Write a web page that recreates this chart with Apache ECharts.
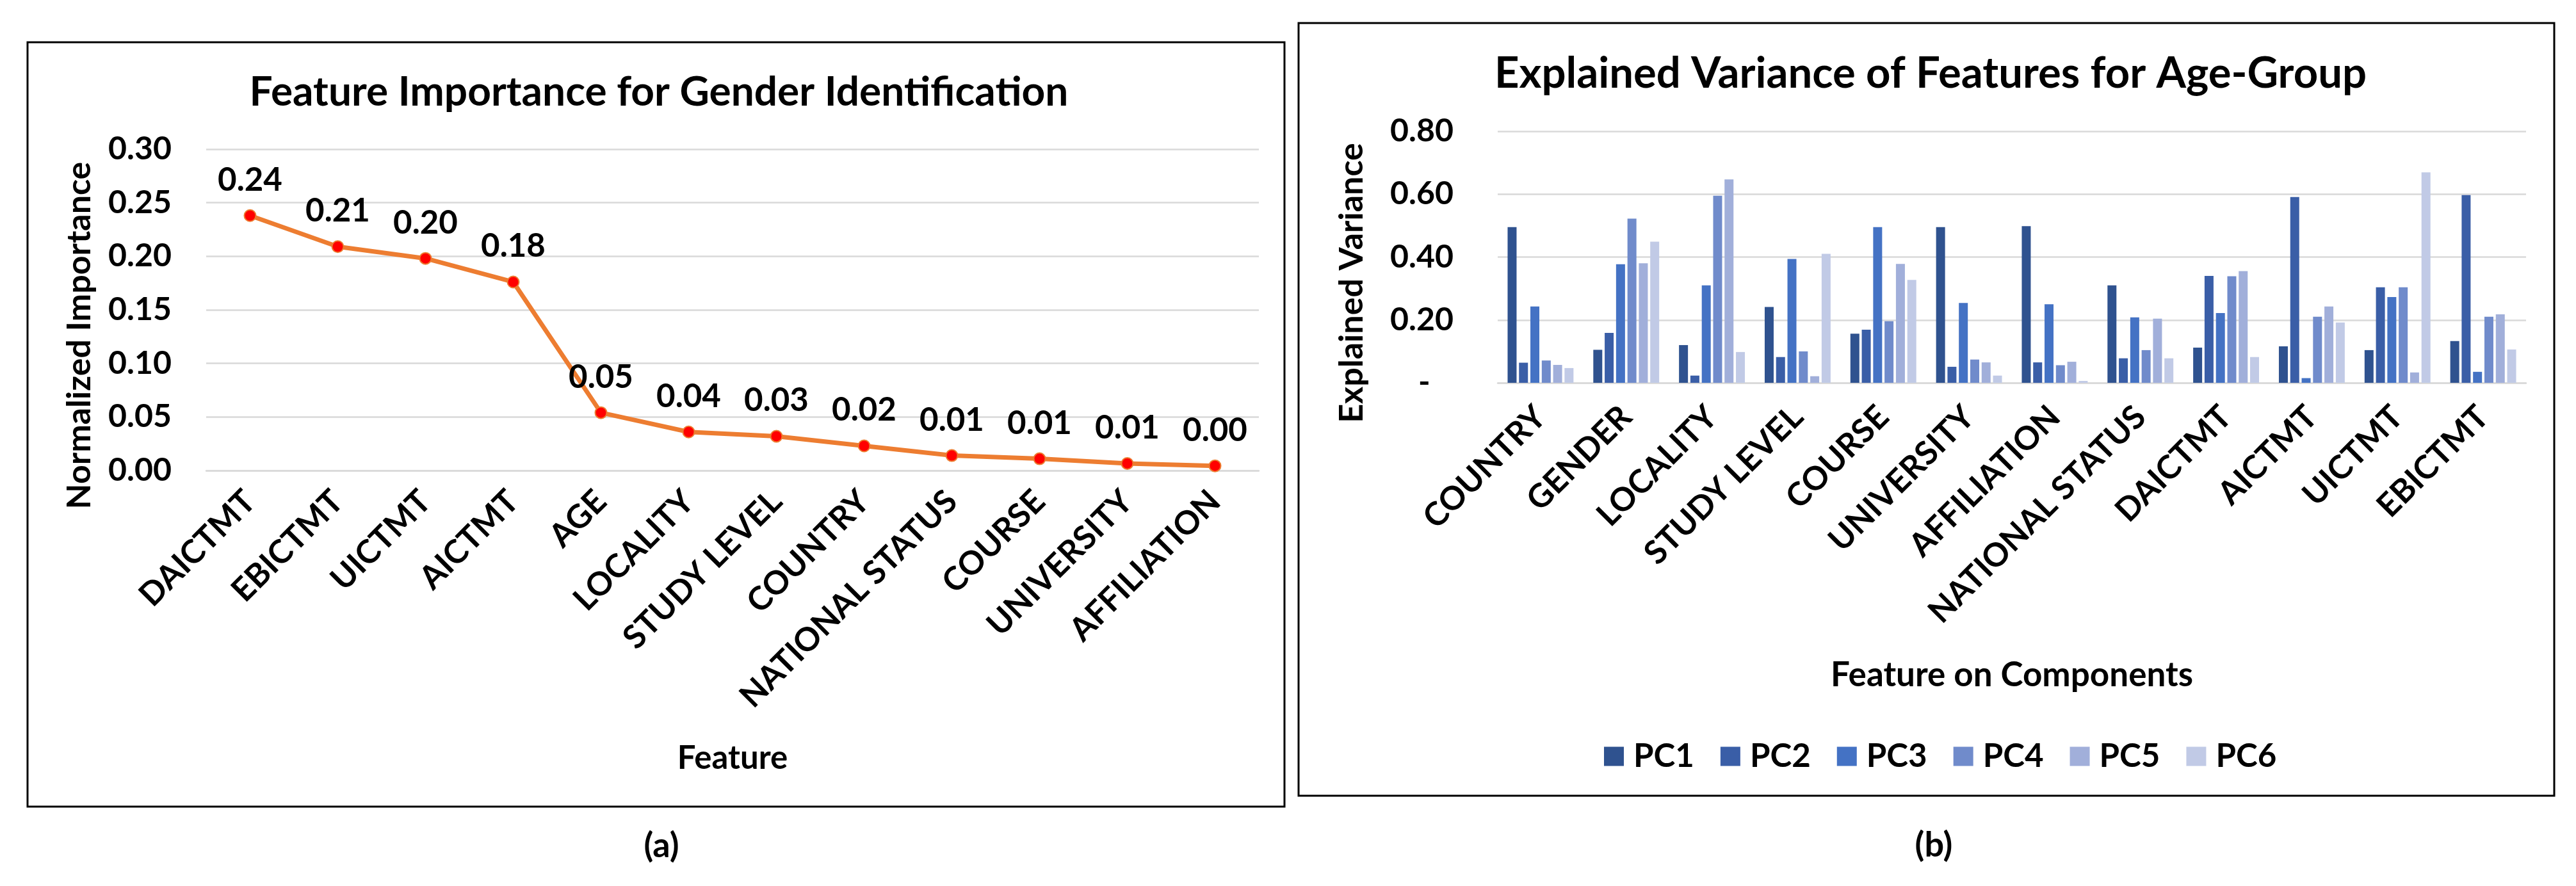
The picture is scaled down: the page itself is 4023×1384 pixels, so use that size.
<!DOCTYPE html>
<html>
<head>
<meta charset="utf-8">
<script src="https://cdn.jsdelivr.net/npm/echarts@6/dist/echarts.min.js"></script>
<style>
html,body{margin:0;padding:0;background:#fff;}
#chart{width:4023px;height:1384px;}
</style>
</head>
<body>
<div id="chart"></div>
<script>
// ---- Panel (a): feature importance for gender identification ----
const genderFeatures = ['DAICTMT','EBICTMT','UICTMT','AICTMT','AGE','LOCALITY','STUDY LEVEL','COUNTRY','NATIONAL STATUS','COURSE','UNIVERSITY','AFFILIATION'];
const genderImportance = [0.238,0.209,0.198,0.176,0.054,0.036,0.032,0.023,0.014,0.011,0.0066,0.0044];
const importanceTicks = {min:0, max:0.30, interval:0.05};

// ---- Panel (b): explained variance of features for age-group ----
const ageFeatures = ['COUNTRY','GENDER','LOCALITY','STUDY LEVEL','COURSE','UNIVERSITY','AFFILIATION','NATIONAL STATUS','DAICTMT','AICTMT','UICTMT','EBICTMT'];
const componentNames = ['PC1','PC2','PC3','PC4','PC5','PC6'];
const pc1 = [0.495,0.105,0.120,0.241,0.156,0.495,0.498,0.310,0.112,0.116,0.104,0.133];
const pc2 = [0.064,0.159,0.023,0.082,0.169,0.051,0.065,0.078,0.340,0.591,0.304,0.597];
const pc3 = [0.243,0.377,0.310,0.394,0.495,0.254,0.250,0.208,0.222,0.015,0.273,0.035];
const pc4 = [0.071,0.522,0.595,0.100,0.196,0.074,0.056,0.104,0.339,0.210,0.304,0.210];
const pc5 = [0.057,0.380,0.647,0.021,0.378,0.065,0.067,0.204,0.355,0.243,0.033,0.218];
const pc6 = [0.047,0.449,0.098,0.410,0.327,0.023,0.006,0.078,0.082,0.192,0.669,0.106];
const varianceTicks = {min:0, max:0.80, interval:0.20};

const pcValues = [pc1,pc2,pc3,pc4,pc5,pc6];
const pcColors = ['#2F528F','#3A5EA7','#4472C4','#708BCB','#A1AFDA','#C1CAE6'];

const FONT = 'Lato';
const txt = (size) => ({fontFamily:FONT, fontWeight:'bold', fontSize:size, color:'#000'});
const gridLine = {show:true, lineStyle:{color:'#D9D9D9', width:2.5}};

const chart = echarts.init(document.getElementById('chart'), null, {renderer:'canvas'});

const option = {
  backgroundColor:'#fff',
  animation:false,
  title:[
    {text:'Feature Importance for Gender Identification', left:1024, top:107, textAlign:'center',
     textStyle:txt(64)},
    {text:'Explained Variance of Features for Age-Group', left:3010, top:77, textAlign:'center',
     textStyle:txt(67)}
  ],
  legend:{
    data:componentNames, left:2500, top:1151, icon:'rect',
    itemWidth:31, itemHeight:30, itemGap:41,
    textStyle:Object.assign(txt(51),{padding:[0,0,0,10]})
  },
  grid:[
    {left:322, top:233, width:1644, height:502, containLabel:false},
    {left:2339, top:205, width:1606, height:393, containLabel:false}
  ],
  xAxis:[
    {type:'category', gridIndex:0, data:genderFeatures, boundaryGap:true,
     axisLine:{show:true, lineStyle:{color:'#D9D9D9', width:2.5}}, axisTick:{show:false},
     axisLabel:Object.assign(txt(51),{rotate:45, interval:0, margin:40}),
     name:'Feature', nameLocation:'middle', nameGap:424, nameTextStyle:txt(51)},
    {type:'category', gridIndex:1, data:ageFeatures, boundaryGap:true,
     axisLine:{show:true, lineStyle:{color:'#D9D9D9', width:2.5}}, axisTick:{show:false},
     axisLabel:Object.assign(txt(51),{rotate:45, interval:0, margin:45}),
     name:'Feature on Components', nameLocation:'middle', nameGap:430, nameTextStyle:txt(53)}
  ],
  yAxis:[
    {type:'value', gridIndex:0, min:importanceTicks.min, max:importanceTicks.max, interval:importanceTicks.interval,
     axisLine:{show:false}, axisTick:{show:false}, splitLine:gridLine,
     axisLabel:Object.assign(txt(50),{margin:54, formatter:(v)=>v.toFixed(2)})},
    {type:'value', gridIndex:1, min:varianceTicks.min, max:varianceTicks.max, interval:varianceTicks.interval,
     axisLine:{show:false}, axisTick:{show:false}, splitLine:gridLine,
     axisLabel:Object.assign(txt(50),{margin:69, formatter:(v)=> v===0 ? '-   ' : v.toFixed(2)})}
  ],
  series:[
    {type:'line', name:'Importance', xAxisIndex:0, yAxisIndex:0, data:genderImportance,
     lineStyle:{color:'#ED7D31', width:7}, symbol:'circle', symbolSize:18,
     itemStyle:{color:'#FF0000', borderColor:'#ED7D31', borderWidth:2},
     label:Object.assign(txt(51),{show:true, position:'top', distance:20, formatter:(p)=>p.value.toFixed(2)}),
     z:5}
  ].concat(componentNames.map((n,i)=>({
     type:'bar', name:n, xAxisIndex:1, yAxisIndex:1, data:pcValues[i],
     barWidth:14, barGap:'27%', itemStyle:{color:pcColors[i]}
  }))),
  graphic:[
    {type:'rect', shape:{x:43, y:66, width:1963, height:1194}, style:{fill:'none', stroke:'#000', lineWidth:3}, silent:true},
    {type:'rect', shape:{x:2028, y:36, width:1961, height:1207}, style:{fill:'none', stroke:'#000', lineWidth:3}, silent:true},
    {type:'text', x:124, y:524, rotation:Math.PI/2,
     style:{text:'Normalized Importance', font:'bold 52px Lato', fill:'#000', align:'center', verticalAlign:'middle'}},
    {type:'text', x:2111, y:442, rotation:Math.PI/2,
     style:{text:'Explained Variance', font:'bold 52px Lato', fill:'#000', align:'center', verticalAlign:'middle'}},
    {type:'text', x:1033, y:1322,
     style:{text:'(a)', font:'bold 54px Lato', fill:'#000', align:'center', verticalAlign:'middle'}},
    {type:'text', x:3020, y:1321,
     style:{text:'(b)', font:'bold 54px Lato', fill:'#000', align:'center', verticalAlign:'middle'}}
  ]
};
chart.setOption(option);
</script>
</body>
</html>
